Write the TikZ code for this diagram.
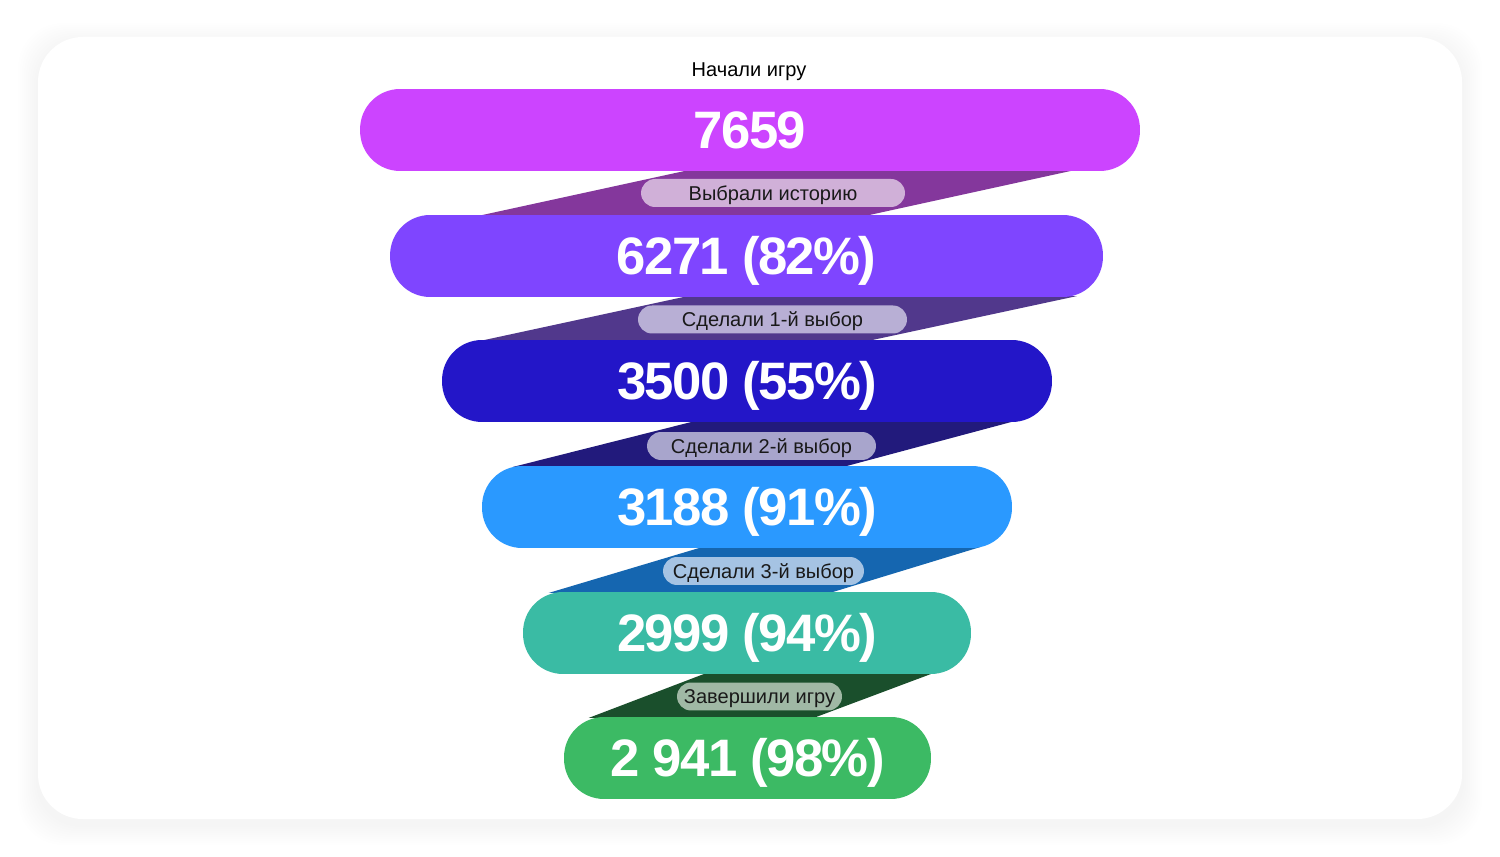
\documentclass[tikz,border=0pt]{standalone}
\usepackage{fontspec}
\setmainfont{Liberation Sans}
\newfontfamily\numfont[LetterSpace=-3]{Liberation Sans}
\usetikzlibrary{calc}
\usetikzlibrary{backgrounds}

\definecolor{barA}{HTML}{CC44FF}
\definecolor{barB}{HTML}{7F45FF}
\definecolor{barC}{HTML}{2316C8}
\definecolor{barD}{HTML}{2A99FF}
\definecolor{barE}{HTML}{3ABBA4}
\definecolor{barF}{HTML}{3CBA64}
\definecolor{linkA}{HTML}{84379C}
\definecolor{linkB}{HTML}{51388C}
\definecolor{linkC}{HTML}{221A7C}
\definecolor{linkD}{HTML}{1566B0}
\definecolor{linkE}{HTML}{1A4F2C}
\definecolor{pillA}{HTML}{D0B0D8}
\definecolor{pillB}{HTML}{B8AFD5}
\definecolor{pillC}{HTML}{A8A5CC}
\definecolor{pillD}{HTML}{A5C3E3}
\definecolor{pillE}{HTML}{A0B8A5}

\tikzset{
  bar/.style={rounded corners=0.8cm, minimum height=1.64cm, inner sep=0pt,
    text height=21.5pt, text depth=0pt,
    text=white, font=\numfont\bfseries\fontsize{30}{30}\selectfont},
  pill/.style={rounded corners=0.28cm, minimum height=0.56cm, inner sep=0pt,
    text height=8.2pt, text depth=0pt,
    text=black!90, font=\fontsize{11.4}{12}\selectfont},
}

% band between two bars: top node, bottom node, offsets tl tr bl br, colour
\newcommand{\band}[7]{%
  \coordinate (tl) at ($(#1.south)+(#3,0)$);
  \coordinate (tr) at ($(#1.south)+(#4,0)$);
  \coordinate (bl) at ($(#2.north)+(#5,0)$);
  \coordinate (br) at ($(#2.north)+(#6,0)$);
  \fill[#7] ($(tl)!-0.03!(bl)$) -- ($(tr)!-0.03!(br)$) -- ($(tr)!1.03!(br)$) -- ($(tl)!1.03!(bl)$) -- cycle;
}

\begin{document}
\begin{tikzpicture}[x=0.02cm, y=-0.02cm]
  \useasboundingbox (0,0) rectangle (1500,857);

  % nodes
  \node[font=\fontsize{11.4}{12}\selectfont, text height=8.2pt, text depth=0pt] (top) at (749,69) {Начали игру};

  \node[bar, fill=barA, minimum width=15.6cm] (start) at (750,130) {7659};
  \node[bar, fill=barB, minimum width=14.26cm] (story) at (746.5,256) {6271 (82\%)};
  \node[bar, fill=barC, minimum width=12.2cm] (choiceA) at (747,381) {3500 (55\%)};
  \node[bar, fill=barD, minimum width=10.6cm] (choiceB) at (747,507) {3188 (91\%)};
  \node[bar, fill=barE, minimum width=8.96cm] (choiceC) at (747,633) {2999 (94\%)};
  \node[bar, fill=barF, minimum width=7.34cm] (finish) at (747.5,758) {2 941 (98\%)};

  \node[pill, fill=pillA, minimum width=5.28cm] (lstory) at (773,193) {Выбрали историю};
  \node[pill, fill=pillB, minimum width=5.38cm] (lchoiceA) at (772.5,319.5) {Сделали 1-й выбор};
  \node[pill, fill=pillC, minimum width=4.58cm] (lchoiceB) at (761.5,446) {Сделали 2-й выбор};
  \node[pill, fill=pillD, minimum width=4.02cm] (lchoiceC) at (763.5,571) {Сделали 3-й выбор};
  \node[pill, fill=pillE, minimum width=3.3cm] (lfinish) at (759.5,696.5) {Завершили игру};

  \begin{scope}[on background layer]
    % card
    \foreach \s in {2,4,...,20}
      \fill[black, opacity=0.003, rounded corners=0.9cm]
        (38-\s,37-\s+6) rectangle (1462+\s,819+\s+6);
    \fill[white, rounded corners=0.9cm] (38,37) rectangle (1462,819);

    % edges
    \band{start}{story}{-67}{319}{-262.5}{124.5}{linkA}
    \band{story}{choiceA}{-64.5}{324.5}{-261}{127}{linkB}
    \band{choiceA}{choiceB}{-57}{263}{-229}{101}{linkC}
    \band{choiceB}{choiceC}{-49}{229}{-194}{87}{linkD}
    \band{choiceC}{finish}{-44}{183}{-155.5}{69.5}{linkE}
  \end{scope}
\end{tikzpicture}
\end{document}
